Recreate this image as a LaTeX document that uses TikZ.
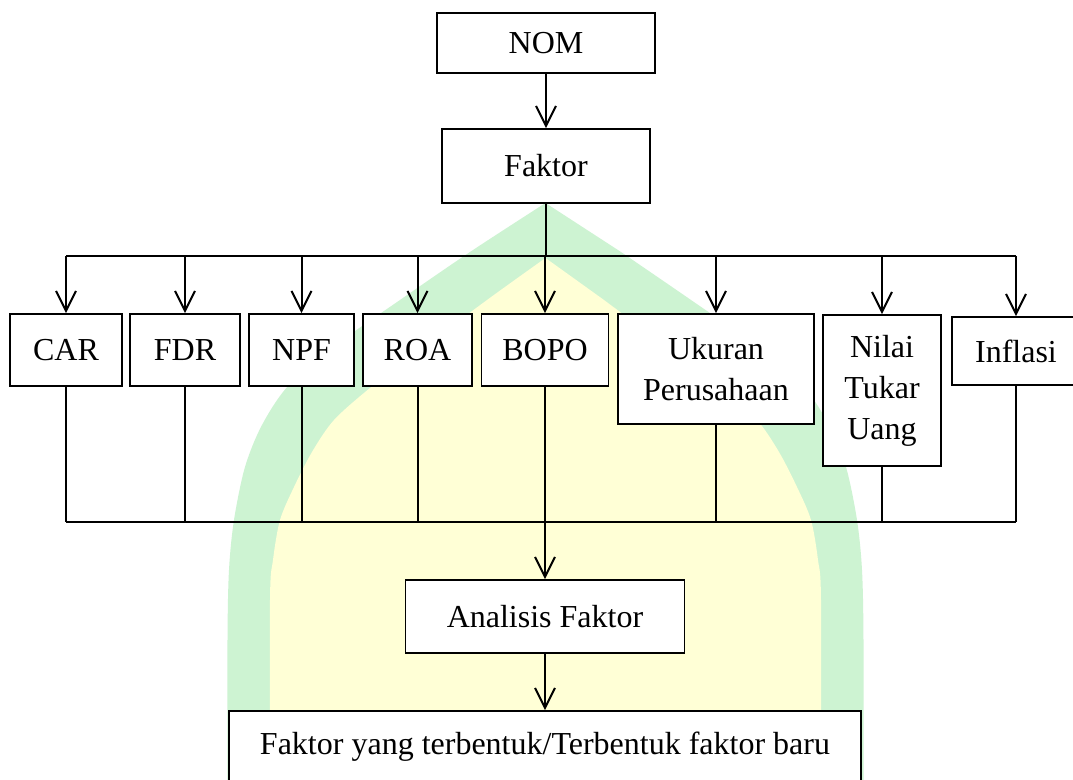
\documentclass[tikz,border=0pt]{standalone}
\usepackage{fontspec}
\setmainfont{Liberation Serif}
\usepackage{tikz}
\usetikzlibrary{
  arrows.meta,%
  positioning,%
  calc
}
\definecolor{wmgreen}{RGB}{205,243,210}
\definecolor{wmyellow}{RGB}{255,255,214}
\tikzset{>={Straight Barb[length=10pt,width=10pt]}}
\tikzset{box/.style={draw, fill=white, line width=0.8pt, inner sep=0pt,
    align=center, font=\fontsize{16}{20.5}\selectfont}}
\tikzset{link/.style={line width=1pt}}

\begin{document}
\begin{tikzpicture}[x=0.5pt, y=-0.5pt]
          \useasboundingbox (0,0) rectangle (1073,780);
          \fill[white] (0,0) rectangle (1073,780);
          % watermark in the background
          \fill[wmgreen] plot[smooth] coordinates {(227.5,800) (227.5,640) (229,570) (234,520) (245,467)
              (262,425) (289,385) (340,342) (400,300) (470,252) (545.5,203)}
            -- plot[smooth] coordinates {(621,252) (691,300) (751,342) (802,385) (829,425)
              (846,467) (857,520) (862,570) (863.5,640) (863.5,800)} -- cycle;
          \fill[wmyellow] plot[smooth] coordinates {(270,800) (270,600) (273,560) (280,520) (294,487)
              (312,452) (334,420) (370,388) (420,350) (487,300) (545.5,258)}
            -- plot[smooth] coordinates {(604,300) (671,350) (721,388) (757,420) (779,452)
              (797,487) (811,520) (818,560) (821,600) (821,800)} -- cycle;
          % boxes
          \node[box, minimum width=109pt, minimum height=30pt] (nom) at (546,43) {NOM};
          \node[box, minimum width=104pt, minimum height=37pt] (faktor) at (546,166) {Faktor};
          \node[box, minimum width=56pt, minimum height=36pt] (car) at (66,350) {CAR};
          \node[box, minimum width=55pt, minimum height=36pt] (fdr) at (185,350) {FDR};
          \node[box, minimum width=52.5pt, minimum height=36pt] (npf) at (301.5,350) {NPF};
          \node[box, minimum width=54.5pt, minimum height=36pt] (roa) at (417.5,350) {ROA};
          \node[box, minimum width=63.5pt, minimum height=36pt] (bopo) at (545,350) {BOPO};
          \node[box, minimum width=98pt, minimum height=55pt] (ukuran) at (716,369) {Ukuran\\Perusahaan};
          \node[box, minimum width=59pt, minimum height=75.5pt] (nilai) at (882,390.5) {Nilai\\Tukar\\Uang};
          \node[box, minimum width=64pt, minimum height=34pt] (inflasi) at (1016,351) {Inflasi};
          \node[box, minimum width=139.5pt, minimum height=36.5pt] (analisis) at (545,616.5) {Analisis Faktor};
          \node[box, minimum width=316pt, minimum height=36pt] (hasil) at (545,747) {Faktor yang terbentuk/Terbentuk faktor baru};
          \coordinate (bar) at (546,256);
          \coordinate (low) at (546,522);
          % connectors
          \draw[link, ->] (nom) -- (faktor);
          \draw[link] (faktor) -- (faktor |- bar);
          \draw[link] (car |- bar) -- (inflasi |- bar);
          \foreach \n in {car,fdr,npf,roa,bopo,ukuran,nilai,inflasi}
            \draw[link, ->] (\n |- bar) -- (\n.north);
          \foreach \n in {car,fdr,npf,roa,bopo,ukuran,nilai,inflasi}
            \draw[link] (\n.south) -- (\n |- low);
          \draw[link] (car |- low) -- (inflasi |- low);
          \draw[link, ->] (bopo |- low) -- (analisis);
          \draw[link, ->] (analisis) -- (hasil);
        \end{tikzpicture}
\end{document}
